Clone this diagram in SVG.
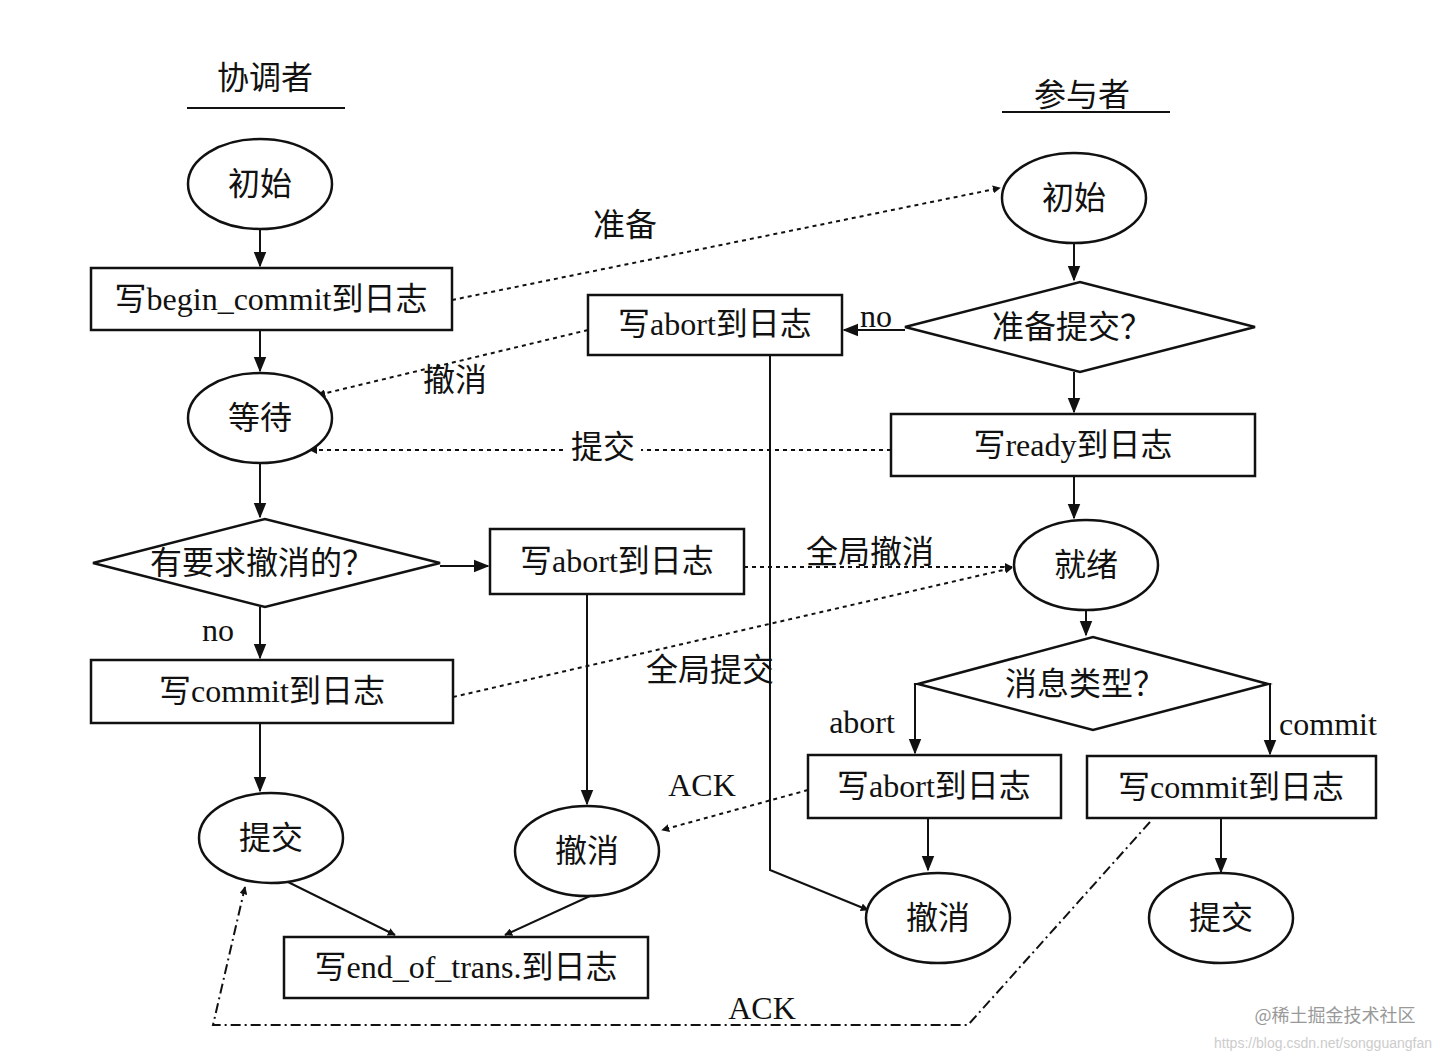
<svg xmlns="http://www.w3.org/2000/svg" width="1440" height="1060" viewBox="0 0 1440 1060">
<defs>
<marker id="a" viewBox="0 0 10 10" refX="9" refY="5" markerWidth="8" markerHeight="8" markerUnits="userSpaceOnUse" orient="auto"><path d="M0,0 L10,5 L0,10 z" fill="#111"/></marker>
<marker id="b" viewBox="0 0 10 10" refX="9" refY="5" markerWidth="16" markerHeight="16" markerUnits="userSpaceOnUse" orient="auto"><path d="M0,1 L10,5 L0,9 z" fill="#111"/></marker>
</defs>
<style>
.s{fill:#fff;stroke:#111;stroke-width:2.5}
.t{font-family:"Liberation Serif","Noto Sans CJK SC",serif;font-size:32px;fill:#111;text-anchor:middle;dominant-baseline:central}
.l{stroke:#111;stroke-width:2;fill:none}
.d{stroke:#111;stroke-width:2;fill:none;stroke-dasharray:4 4}
</style>
<rect width="1440" height="1060" fill="#fff"/>
<text class="t" x="265" y="78">协调者</text>
<line x1="187" y1="108" x2="345" y2="108" stroke="#111" stroke-width="2"/>
<text class="t" x="1082" y="95">参与者</text>
<line x1="1002" y1="112" x2="1170" y2="112" stroke="#111" stroke-width="2"/>

<g id="connectors">
<path class="l" d="M260,229V266" marker-end="url(#b)"/>
<path class="l" d="M260,330V371" marker-end="url(#b)"/>
<path class="l" d="M260,463V517" marker-end="url(#b)"/>
<path class="l" d="M260,607V658" marker-end="url(#b)"/>
<path class="l" d="M260,723V791" marker-end="url(#b)"/>
<path class="l" d="M440,566H488" marker-end="url(#b)"/>
<path class="l" d="M587,594V804" marker-end="url(#b)"/>
<path class="l" d="M288,882L395,935" marker-end="url(#a)"/>
<path class="l" d="M590,896L505,935" marker-end="url(#a)"/>
<path class="l" d="M1074,243V280" marker-end="url(#b)"/>
<path class="l" d="M1074,372V412" marker-end="url(#b)"/>
<path class="l" d="M1074,476V518" marker-end="url(#b)"/>
<path class="l" d="M1086,610V635" marker-end="url(#b)"/>
<path class="l" d="M918,684H915V753" marker-end="url(#b)"/>
<path class="l" d="M1268,684H1270V754" marker-end="url(#b)"/>
<path class="l" d="M928,818V870" marker-end="url(#b)"/>
<path class="l" d="M1221,818V872" marker-end="url(#b)"/>
<path class="l" d="M905,330H844" marker-end="url(#b)"/>
<path class="l" d="M770,355V870L868,910" marker-end="url(#a)"/>
<path class="d" d="M452,300L1000,188" marker-end="url(#a)"/>
<path class="d" d="M588,330L318,395" marker-end="url(#a)"/>
<path class="d" d="M891,450H310" marker-end="url(#a)"/>
<path class="d" d="M744,567H1012" marker-end="url(#a)"/>
<path class="d" d="M453,697L1012,568" marker-end="url(#a)"/>
<path class="d" d="M808,790L662,830" marker-end="url(#a)"/>
<path class="l" stroke-dasharray="10 4 2 4" d="M1150,822L968,1025H213L245,887" marker-end="url(#a)"/>
</g>
<g id="labels">
<text class="t" x="625" y="225">准备</text>
<text class="t" x="455" y="380">撤消</text>
<rect x="565" y="430" width="76" height="36" fill="#fff"/>
<text class="t" x="603" y="447">提交</text>
<text class="t" x="870" y="552">全局撤消</text>
<text class="t" x="710" y="670">全局提交</text>
<text class="t" x="702" y="785">ACK</text>
<text class="t" x="762" y="1008">ACK</text>
<text class="t" x="218" y="630">no</text>
<text class="t" x="876" y="316">no</text>
<text class="t" x="862" y="722">abort</text>
<text class="t" x="1328" y="724">commit</text>
</g>

<g id="n1"><ellipse class="s" cx="260" cy="184" rx="72" ry="45"/><text class="t" x="260" y="184">初始</text></g>
<g id="n2"><rect class="s" x="91" y="268" width="361" height="62"/><text class="t" x="271" y="299">写begin_commit到日志</text></g>
<g id="n3"><ellipse class="s" cx="260" cy="418" rx="72" ry="45"/><text class="t" x="260" y="418">等待</text></g>
<g id="n4"><polygon class="s" points="93,563 265,519 440,563 265,607"/><text class="t" x="262" y="563">有要求撤消的？</text></g>
<g id="n5"><rect class="s" x="490" y="529" width="254" height="65"/><text class="t" x="617" y="561">写abort到日志</text></g>
<g id="n6"><rect class="s" x="91" y="660" width="362" height="63"/><text class="t" x="272" y="691">写commit到日志</text></g>
<g id="n7"><ellipse class="s" cx="271" cy="838" rx="72" ry="45"/><text class="t" x="271" y="838">提交</text></g>
<g id="n8"><ellipse class="s" cx="587" cy="851" rx="72" ry="45"/><text class="t" x="587" y="851">撤消</text></g>
<g id="n9"><rect class="s" x="284" y="937" width="364" height="61"/><text class="t" x="466" y="967">写end_of_trans.到日志</text></g>
<g id="p1"><ellipse class="s" cx="1074" cy="198" rx="72" ry="45"/><text class="t" x="1074" y="198">初始</text></g>
<g id="p2"><polygon class="s" points="905,327 1080,282 1255,327 1080,372"/><text class="t" x="1072" y="327">准备提交？</text></g>
<g id="p3"><rect class="s" x="588" y="295" width="254" height="60"/><text class="t" x="715" y="324">写abort到日志</text></g>
<g id="p4"><rect class="s" x="891" y="414" width="364" height="62"/><text class="t" x="1073" y="445">写ready到日志</text></g>
<g id="p5"><ellipse class="s" cx="1086" cy="565" rx="72" ry="45"/><text class="t" x="1086" y="565">就绪</text></g>
<g id="p6"><polygon class="s" points="918,684 1093,637 1268,684 1093,730"/><text class="t" x="1085" y="684">消息类型？</text></g>
<g id="p7"><rect class="s" x="808" y="755" width="253" height="63"/><text class="t" x="934" y="786">写abort到日志</text></g>
<g id="p8"><rect class="s" x="1087" y="756" width="289" height="62"/><text class="t" x="1231" y="787">写commit到日志</text></g>
<g id="p9"><ellipse class="s" cx="938" cy="918" rx="72" ry="45"/><text class="t" x="938" y="918">撤消</text></g>
<g id="p10"><ellipse class="s" cx="1221" cy="918" rx="72" ry="45"/><text class="t" x="1221" y="918">提交</text></g>
<text x="1335" y="1022" font-family="Noto Sans CJK SC,sans-serif" font-size="18" fill="#999" text-anchor="middle">@稀土掘金技术社区</text>
<text x="1432" y="1048" font-family="Liberation Sans,sans-serif" font-size="14" fill="#ccc" text-anchor="end">https://blog.csdn.net/songguangfan</text>
</svg>
